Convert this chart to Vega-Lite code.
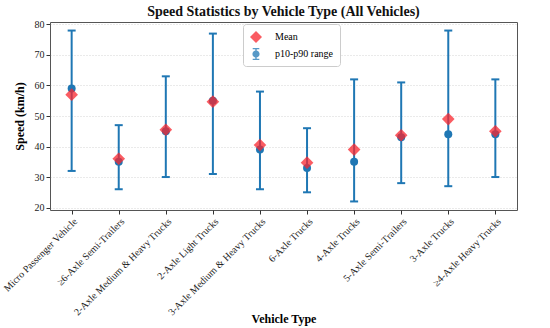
{
  "$schema": "https://vega.github.io/schema/vega-lite/v6.json",
  "width": 467,
  "height": 188,
  "autosize": {"type": "none"},
  "padding": {"left": 50, "top": 22, "right": 33, "bottom": 118},
  "background": "white",
  "config": {
    "font": "Liberation Serif",
    "view": {"stroke": "#555555", "strokeWidth": 1},
    "axis": {"labelFont": "Liberation Serif", "titleFont": "Liberation Serif", "labelColor": "#222", "titleColor": "#000", "tickColor": "#333", "domain": false},
    "axisY": {"values": [20, 30, 40, 50, 60, 70, 80], "labelOverlap": false, "tickSize": 4, "grid": true, "gridDash": [1, 2], "gridColor": "#cccccc", "gridOpacity": 0.8, "labelFontSize": 10}
  },
  "title": {"text": "Speed Statistics by Vehicle Type (All Vehicles)", "fontSize": 14, "font": "Liberation Serif", "fontWeight": "bold", "anchor": "middle", "offset": 0, "color": "#111"},
  "data": {"values": [
    {"type": "Micro Passenger Vehicle", "p10": 32, "p90": 78, "med": 59, "mean": 57},
    {"type": "≥6-Axle Semi-Trailers", "p10": 26, "p90": 47, "med": 35, "mean": 36},
    {"type": "2-Axle Medium & Heavy Trucks", "p10": 30, "p90": 63, "med": 45, "mean": 45.5},
    {"type": "2-Axle Light Trucks", "p10": 31, "p90": 77, "med": 55, "mean": 54.7},
    {"type": "3-Axle Medium & Heavy Trucks", "p10": 26, "p90": 58, "med": 39, "mean": 40.5},
    {"type": "6-Axle Trucks", "p10": 25, "p90": 46, "med": 33, "mean": 34.7},
    {"type": "4-Axle Trucks", "p10": 22, "p90": 62, "med": 35, "mean": 39},
    {"type": "5-Axle Semi-Trailers", "p10": 28, "p90": 61, "med": 43, "mean": 43.7},
    {"type": "3-Axle Trucks", "p10": 27, "p90": 78, "med": 44, "mean": 49},
    {"type": "≥4-Axle Heavy Trucks", "p10": 30, "p90": 62, "med": 44, "mean": 45}
  ]},
  "encoding": {
    "x": {"field": "type", "type": "nominal", "sort": null,
      "scale": {"type": "point", "padding": 0.46},
      "axis": {"title": "Vehicle Type", "titleFontSize": 12, "titleFontWeight": "bold", "labelAngle": -45, "labelFontSize": 10, "tickSize": 4, "titleY": 108, "titleBaseline": "middle", "grid": false}}
  },
  "layer": [
    {
      "mark": {"type": "rule", "color": "#1f77b4", "strokeWidth": 2},
      "encoding": {
        "y": {"field": "p10", "type": "quantitative", "scale": {"domain": [19.2, 80.8], "nice": false, "zero": false},
          "axis": {"title": "Speed (km/h)", "titleFontSize": 12, "titleFontWeight": "bold", "titlePadding": 8}},
        "y2": {"field": "p90"}
      }
    },
    {
      "mark": {"type": "tick", "color": "#1f77b4", "orient": "horizontal", "size": 8, "thickness": 2, "opacity": 1},
      "encoding": {"y": {"field": "p10", "type": "quantitative"}}
    },
    {
      "mark": {"type": "tick", "color": "#1f77b4", "orient": "horizontal", "size": 8, "thickness": 2, "opacity": 1},
      "encoding": {"y": {"field": "p90", "type": "quantitative"}}
    },
    {
      "mark": {"type": "point", "filled": true, "size": 64, "opacity": 1, "shape": "circle"},
      "encoding": {
        "y": {"field": "med", "type": "quantitative"},
        "color": {"datum": "p10-p90 range", "scale": {"domain": ["Mean", "p10-p90 range"], "range": ["#f8262e", "#1f77b4"]},
          "legend": {"title": null, "orient": "none", "legendX": 193, "legendY": 2, "labelFontSize": 10, "labelFont": "Liberation Serif", "symbolSize": 144, "strokeColor": "#cccccc", "fillColor": "white", "padding": 6, "cornerRadius": 3, "rowPadding": 4, "symbolOpacity": 0.85, "labelOffset": 12}}
      }
    },
    {
      "mark": {"type": "point", "filled": true, "size": 160, "opacity": 0.75, "shape": "diamond"},
      "encoding": {
        "y": {"field": "mean", "type": "quantitative"},
        "color": {"datum": "Mean"},
        "shape": {"datum": "Mean", "scale": {"domain": ["Mean", "p10-p90 range"], "range": ["diamond", "M-0.55,-1H0.55V-0.8H-0.55ZM-0.55,0.8H0.55V1H-0.55ZM-0.12,-1H0.12V1H-0.12ZM0.6,0A0.6,0.6 0 1 1 -0.6,0A0.6,0.6 0 1 1 0.6,0Z"]}, "legend": {"title": null, "orient": "none", "legendX": 193, "legendY": 2}}
      }
    }
  ]
}
